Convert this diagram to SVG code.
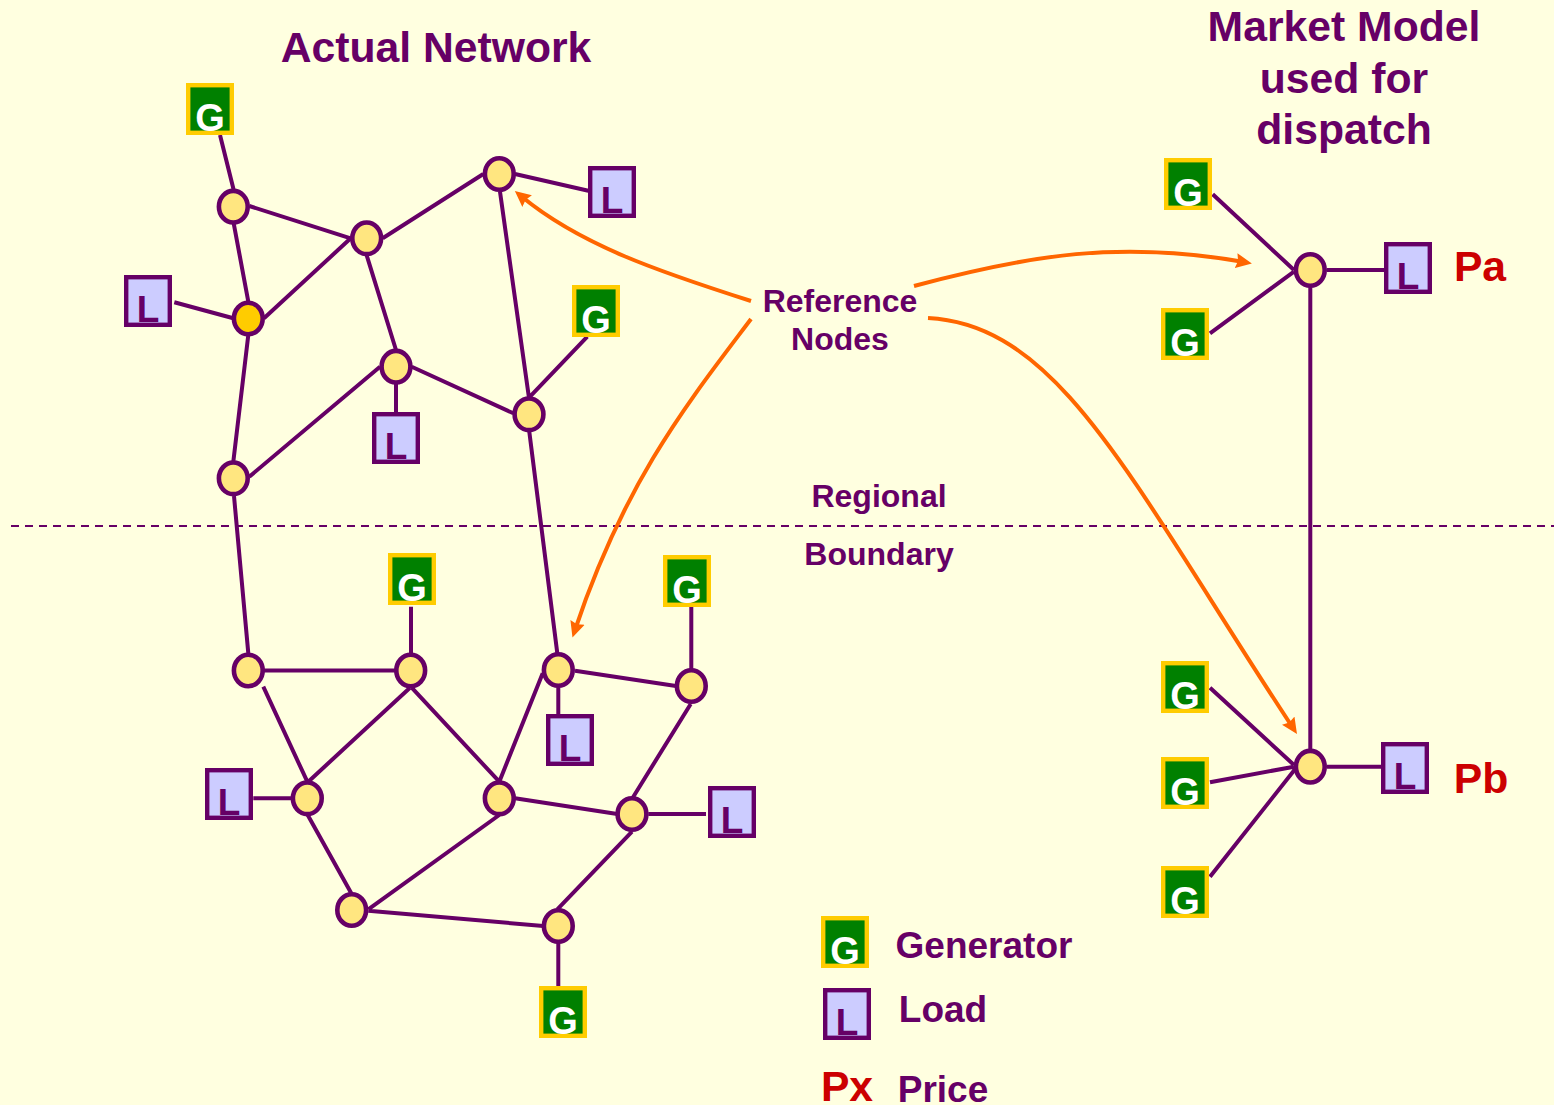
<svg xmlns="http://www.w3.org/2000/svg" xmlns:xlink="http://www.w3.org/1999/xlink" width="1554" height="1105" viewBox="0 0 1554 1105">
<style>
text{font-family:"Liberation Sans",Arial,sans-serif;font-weight:700;text-anchor:middle}
.t{fill:#660066}
.red{fill:#cc0000}
.h{font-size:42.7px}
.m{font-size:32px}
.lg{font-size:37px}
.n{fill:#ffe680;stroke:#660066;stroke-width:4.6}
.ref{fill:#ffcc00;stroke:#660066;stroke-width:4.6}
.gr{fill:#008000;stroke:#ffcc00;stroke-width:4.4}
.gt{fill:#fff;font-size:38px}
.lr{fill:#ccccff;stroke:#660066;stroke-width:4.4}
.lt{fill:#660066;font-size:37px}
#wires path{fill:none;stroke:#660066;stroke-width:4}
#arrows path{fill:none;stroke:#ff6600;stroke-width:4;marker-end:url(#ah)}
</style>
<defs>
<marker id="ah" markerUnits="userSpaceOnUse" markerWidth="18" markerHeight="16" refX="8" refY="8" orient="auto"><path d="M0 .5L16 8L0 15.5L2 8Z" fill="#ff6600" stroke="none"/></marker>
<g id="gb"><rect class="gr" x="2.2" y="2.2" width="43.6" height="47.6"/><text class="gt" x="24" y="47.5">G</text></g>
<g id="lb"><rect class="lr" x="2.2" y="2.2" width="43.6" height="47.6"/><text class="lt" x="24" y="47">L</text></g>
</defs>
<rect width="1554" height="1105" fill="#ffffe0"/>
<g id="wires">
<path d="M220 135L233.7 190M233.7 223.3L248.3 301.7M249.3 206L350.7 238.3M264 318.3L350.7 238.3M382.7 238.3L483.3 174M515 174L588.3 190.7M174.3 302.3L233.3 318.3M500 191.7L529 398M366.7 255.3L396 350M411.7 366.7L513.3 413.3M530 396.7L587.3 336.7M396 383.3V413M248.3 335L233.3 461.7M380 366.7L249.3 476.7M234 496L248.3 653.3M263.3 670.5H395M411 606.7V653.3M529.3 431.7L557.3 653.3M575 670.7L676 686M691.3 607V670M558.3 687.3V714M542.7 673.3L499.3 781.7M515 798.3L617.3 814M690.7 704L632.7 797.7M648.3 814H706M632 831.7L557.3 909.3M263.3 686.7L307.3 781.7M410 687.7L308.3 781.7M411.7 687.7L499.3 781.7M253.3 798.3H291.7M307.7 815L351.7 894M499.3 815L368.3 909.3M368.3 910.7L543.3 926M558.3 943V986"/>
<path d="M1212.7 194.3L1294 270M1210 333.3L1294 271.7M1326.7 270H1384M1310.3 287.3V750M1210 687.7L1294 765M1210 782.3L1294 766.7M1210 876.7L1295 769.3M1326.7 766.7H1381.7"/>
</g>
<path id="boundary" d="M11 526H1554" fill="none" stroke="#660066" stroke-width="2" stroke-dasharray="8 6"/>
<g id="arrows">
<path d="M751 301C660 272 580 245 521 196"/>
<path d="M751 319C690 400 625 480 575 630"/>
<path d="M914 286C1030 255 1120 240 1244 262"/>
<path d="M928 318C1060 325 1130 480 1292.6 727.4"/>
</g>
<g id="busbars">
<ellipse class="n" cx="233.3" cy="206.7" rx="14.4" ry="15.8"/>
<ellipse class="n" cx="366.7" cy="238.3" rx="14.4" ry="15.8"/>
<ellipse class="n" cx="499.3" cy="174" rx="14.4" ry="15.8"/>
<ellipse class="ref" cx="248.3" cy="318.5" rx="14.4" ry="15.8"/>
<ellipse class="n" cx="396" cy="366.7" rx="14.4" ry="15.8"/>
<ellipse class="n" cx="529" cy="414.3" rx="14.4" ry="15.8"/>
<ellipse class="n" cx="233.3" cy="478.3" rx="14.4" ry="15.8"/>
<ellipse class="n" cx="248.3" cy="670.5" rx="14.4" ry="15.8"/>
<ellipse class="n" cx="410.7" cy="670.5" rx="14.4" ry="15.8"/>
<ellipse class="n" cx="558.3" cy="670" rx="14.4" ry="15.8"/>
<ellipse class="n" cx="691.3" cy="686" rx="14.4" ry="15.8"/>
<ellipse class="n" cx="307.3" cy="798.3" rx="14.4" ry="15.8"/>
<ellipse class="n" cx="499.3" cy="798.3" rx="14.4" ry="15.8"/>
<ellipse class="n" cx="632" cy="814" rx="14.4" ry="15.8"/>
<ellipse class="n" cx="351.7" cy="910" rx="14.4" ry="15.8"/>
<ellipse class="n" cx="558.3" cy="926" rx="14.4" ry="15.8"/>
<ellipse class="n" cx="1310.3" cy="270" rx="14.4" ry="15.8"/>
<ellipse class="n" cx="1310.3" cy="766.7" rx="14.4" ry="15.8"/>
</g>
<g id="g1" transform="translate(186 83)"><use xlink:href="#gb"/></g>
<g id="g2" transform="translate(572 285)"><use xlink:href="#gb"/></g>
<g id="g3" transform="translate(388 553)"><use xlink:href="#gb"/></g>
<g id="g4" transform="translate(663 555)"><use xlink:href="#gb"/></g>
<g id="g5" transform="translate(539 986)"><use xlink:href="#gb"/></g>
<g id="g6" transform="translate(1164 158)"><use xlink:href="#gb"/></g>
<g id="g7" transform="translate(1161 308)"><use xlink:href="#gb"/></g>
<g id="g8" transform="translate(1161 661)"><use xlink:href="#gb"/></g>
<g id="g9" transform="translate(1161 757)"><use xlink:href="#gb"/></g>
<g id="g10" transform="translate(1161 866)"><use xlink:href="#gb"/></g>
<g id="g-legend" transform="translate(821 916)"><use xlink:href="#gb"/></g>
<g id="l1" transform="translate(588 166)"><use xlink:href="#lb"/></g>
<g id="l2" transform="translate(124 275)"><use xlink:href="#lb"/></g>
<g id="l3" transform="translate(372 412)"><use xlink:href="#lb"/></g>
<g id="l4" transform="translate(546 714)"><use xlink:href="#lb"/></g>
<g id="l5" transform="translate(205 768)"><use xlink:href="#lb"/></g>
<g id="l6" transform="translate(708 786)"><use xlink:href="#lb"/></g>
<g id="l7" transform="translate(1384 242)"><use xlink:href="#lb"/></g>
<g id="l8" transform="translate(1381 742)"><use xlink:href="#lb"/></g>
<g id="l-legend" transform="translate(823 988)"><use xlink:href="#lb"/></g>
<g id="labels">
<text class="t h" x="436" y="62">Actual Network</text>
<text class="t h" x="1344" y="41">Market Model</text>
<text class="t h" x="1344" y="93">used for</text>
<text class="t h" x="1344" y="144">dispatch</text>
<text class="t m" x="840" y="312">Reference</text>
<text class="t m" x="840" y="350">Nodes</text>
<text class="t m" x="879" y="507">Regional</text>
<text class="t m" x="879" y="565">Boundary</text>
<text class="red h" x="1480" y="281">Pa</text>
<text class="red h" x="1481" y="793">Pb</text>
<text class="t lg" x="984" y="958">Generator</text>
<text class="t lg" x="943" y="1022">Load</text>
<text class="red h" x="847" y="1101">Px</text>
<text class="t lg" x="943" y="1102">Price</text>
</g>
</svg>
